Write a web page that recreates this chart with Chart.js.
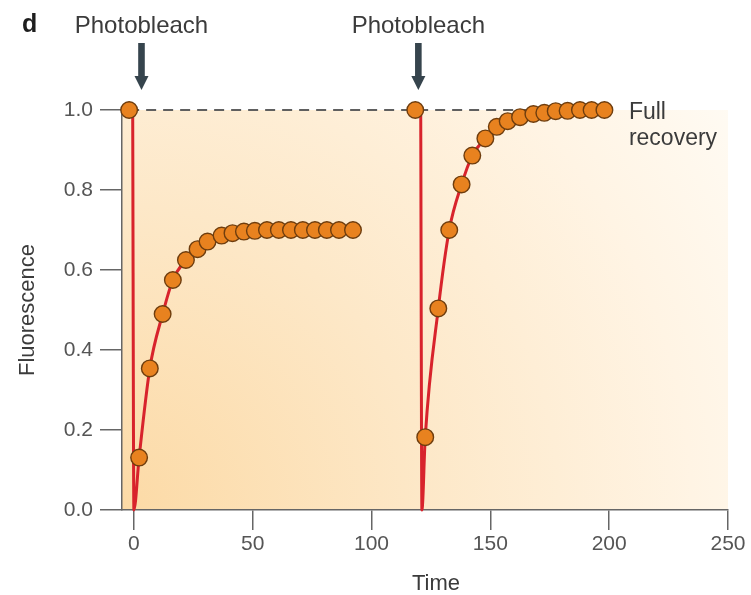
<!DOCTYPE html>
<html>
<head>
<meta charset="utf-8">
<title>FRAP recovery</title>
<script src="https://cdn.jsdelivr.net/npm/chart.js@4/dist/chart.umd.min.js"></script>
<style>
  html, body { margin: 0; padding: 0; background: #fff; }
</style>
</head>
<body>
<canvas id="chart" width="751" height="595"></canvas>
<script>
// times of the two bleach pulses and the arrows above them
var bleachTimes = [0, 121.2];
var arrowTimes = [3.2, 119.7];

// first bleach: 70% recovery (mobile fraction 0.7)
var firstPreTime = -2;
var firstTimes = [2.2, 6.7, 12.1, 16.4, 21.9, 26.8, 31.0, 36.9, 41.5, 46.3, 50.9, 56.0, 61.0, 66.1, 71.1, 76.2, 81.2, 86.3, 92.2];
var firstValues = [0.131, 0.354, 0.49, 0.575, 0.625, 0.652, 0.671, 0.686, 0.692, 0.696, 0.698, 0.70, 0.70, 0.70, 0.70, 0.70, 0.70, 0.70, 0.70];

// second bleach: full recovery
var secondPreTime = 118.4;
var secondTimes = [122.6, 128.1, 132.7, 137.9, 142.4, 147.9, 152.7, 157.3, 162.5, 168.1, 172.7, 177.5, 182.5, 187.7, 192.6, 198.0];
var secondValues = [0.182, 0.504, 0.70, 0.814, 0.886, 0.929, 0.958, 0.972, 0.982, 0.990, 0.993, 0.997, 0.998, 1.0, 1.0, 1.0];

var prebleachLevel = 1.0;
var xTicks = [0, 50, 100, 150, 200, 250];
var yTicks = [0, 0.2, 0.4, 0.6, 0.8, 1.0];

var toPoints = function (xs, ys) {
  return xs.map(function (x, i) { return {x: x, y: ys[i]}; });
};

var firstMarkers = [{x: firstPreTime, y: prebleachLevel}].concat(toPoints(firstTimes, firstValues));
var secondMarkers = [{x: secondPreTime, y: prebleachLevel}].concat(toPoints(secondTimes, secondValues));

// fit lines: straight drop at the bleach, then through the recovery readings
var firstFit = [{x: bleachTimes[0] - 0.5, y: prebleachLevel}, {x: bleachTimes[0], y: 0}].concat(toPoints(firstTimes, firstValues));
var secondFit = [{x: bleachTimes[1] - 0.5, y: prebleachLevel}, {x: bleachTimes[1], y: 0}].concat(toPoints(secondTimes, secondValues));

var TEXT = '#3b3b3b';
var FONT = '"Liberation Sans", Arial, Helvetica, sans-serif';

// warm shading inside the plot area
var backdrop = {
  id: 'backdrop',
  beforeDraw: function (chart) {
    var a = chart.chartArea, ctx = chart.ctx;
    var g = ctx.createRadialGradient(a.left, a.bottom, 0, a.left, a.bottom, 760);
    g.addColorStop(0, '#fcdaa6');
    g.addColorStop(0.4, '#fde8c8');
    g.addColorStop(0.75, '#fff4e4');
    g.addColorStop(1, '#fffcf6');
    ctx.save();
    ctx.fillStyle = g;
    ctx.fillRect(a.left, a.top, a.right - a.left, a.bottom - a.top);
    ctx.restore();
  }
};

// panel letter, bleach arrows, end label and axis titles
var annotations = {
  id: 'annotations',
  afterDraw: function (chart) {
    var ctx = chart.ctx, xs = chart.scales.x, ys = chart.scales.y, a = chart.chartArea;
    ctx.save();

    ctx.fillStyle = '#1e1e1e';
    ctx.font = 'bold 25px ' + FONT;
    ctx.textAlign = 'left';
    ctx.textBaseline = 'alphabetic';
    ctx.fillText('d', 22, 32);

    arrowTimes.forEach(function (t) {
      var px = xs.getPixelForValue(t);
      ctx.fillStyle = TEXT;
      ctx.font = '24px ' + FONT;
      ctx.textAlign = 'center';
      ctx.fillText('Photobleach', px, 33);

      ctx.fillStyle = '#36444d';
      ctx.fillRect(px - 3.3, 43, 6.6, 35);
      ctx.beginPath();
      ctx.moveTo(px - 7, 76);
      ctx.lineTo(px + 7, 76);
      ctx.lineTo(px, 90);
      ctx.closePath();
      ctx.fill();
    });

    var top = ys.getPixelForValue(prebleachLevel);
    ctx.fillStyle = TEXT;
    ctx.font = '23px ' + FONT;
    ctx.textAlign = 'left';
    ctx.fillText('Full', xs.getPixelForValue(208.3), top + 9);
    ctx.fillText('recovery', xs.getPixelForValue(208.3), top + 35);

    ctx.font = '22px ' + FONT;
    ctx.textAlign = 'center';
    ctx.textBaseline = 'middle';
    ctx.fillText('Time', (a.left + a.right) / 2 + 11, 584);

    ctx.translate(28, (a.top + a.bottom) / 2);
    ctx.rotate(-Math.PI / 2);
    ctx.fillText('Fluorescence', 0, 0);
    ctx.restore();
  }
};

var markerStyle = {
  pointRadius: 8.3,
  pointHoverRadius: 8.3,
  pointBackgroundColor: '#e8821f',
  pointBorderColor: '#6e3d0e',
  pointBorderWidth: 1.4,
  showLine: false,
  clip: false,
  order: 0
};

var fitStyle = {
  showLine: true,
  borderColor: '#d8232c',
  borderWidth: 3,
  pointRadius: 0,
  cubicInterpolationMode: 'monotone',
  clip: false,
  order: 1
};

var config = {
  type: 'scatter',
  data: {
    datasets: [
      Object.assign({label: 'Full recovery level', data: [{x: firstPreTime, y: prebleachLevel}, {x: secondTimes[secondTimes.length - 1], y: prebleachLevel}],
        showLine: true, borderColor: '#5f5f5f', borderWidth: 1.8, borderDash: [10, 7], pointRadius: 0, clip: false, order: 2}),
      Object.assign({label: 'Fit 1', data: firstFit}, fitStyle),
      Object.assign({label: 'Fit 2', data: secondFit}, fitStyle),
      Object.assign({label: 'Bleach 1', data: firstMarkers}, markerStyle),
      Object.assign({label: 'Bleach 2', data: secondMarkers}, markerStyle)
    ]
  },
  options: {
    responsive: false,
    animation: false,
    devicePixelRatio: 1,
    layout: {
      padding: {top: 110, right: 23, left: 0, bottom: 0}
    },
    plugins: {
      legend: {display: false},
      tooltip: {enabled: false}
    },
    scales: {
      x: {
        type: 'linear',
        min: -5,
        max: 250,
        afterBuildTicks: function (scale) {
          scale.ticks = xTicks.map(function (v) { return {value: v}; });
        },
        afterFit: function (scale) { scale.height = 85; },
        grid: {drawOnChartArea: false, drawTicks: true, tickLength: 20, tickColor: '#666', lineWidth: 1.5},
        border: {display: true, color: '#666', width: 1.5},
        ticks: {color: '#555', padding: 2, font: {family: FONT, size: 21}}
      },
      y: {
        type: 'linear',
        min: 0,
        max: 1,
        afterBuildTicks: function (scale) {
          scale.ticks = yTicks.map(function (v) { return {value: v}; });
        },
        afterFit: function (scale) { scale.width = 122; },
        grid: {drawOnChartArea: false, drawTicks: true, tickLength: 22, tickColor: '#666', lineWidth: 1.5},
        border: {display: true, color: '#666', width: 1.5},
        ticks: {
          color: '#555',
          padding: 7,
          font: {family: FONT, size: 21},
          callback: function (v) { return v.toFixed(1); }
        }
      }
    }
  },
  plugins: [backdrop, annotations]
};

window.onload = function () {
  var ctx = document.getElementById('chart').getContext('2d');
  window.frapChart = new Chart(ctx, config);
};
</script>
</body>
</html>
